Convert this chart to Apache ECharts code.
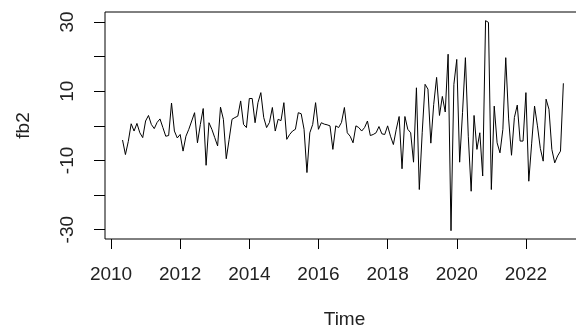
<!DOCTYPE html>
<html>
<head>
<meta charset="utf-8">
<script src="https://cdn.jsdelivr.net/npm/echarts@6/dist/echarts.min.js"></script>
<style>
html,body{margin:0;padding:0;background:#fff;}
#chart{width:576px;height:329px;}
</style>
</head>
<body>
<div id="chart"></div>
<script>
// Monthly series fb2, starting May 2010
var startYear = 2010;
var startMonth = 5;
var fb2 = [
  -4.1, -8.3, -4.5, 0.6, -1.5, 0.7, -2, -3.4, 1.4, 3.0,
  0.4, -0.8, 1, 2, -0.5, -3, -2.8, 6.6, -1.5, -3.5,
  -2.5, -7.3, -3, -1, 1.4, 3.8, -4.9, 0.4, 5, -11.4,
  0.9, -1, -3.4, -5.8, 5.4, 1.9, -9.5, -3.9, 1.9, 2.4,
  2.8, 7.2, 0.4, -0.5, 7.9, 7.9, 0.9, 6.7, 9.6, 2.4,
  -0.5, 1, 5.3, -1.5, 1.9, 1.5, 6.7, -3.9, -2.5, -1.5,
  -1, 3.8, 3.5, -1, -13.5, -2, 0.4, 6.7, -1, 0.9,
  0.5, 0.3, 0, -6.8, 0, -0.5, 1, 5.3, -2, -3,
  -4.9, 0, -0.5, -1.5, -0.5, 1.4, -2.8, -2.5, -2, -0.2,
  -2.3, -2.5, 0, -3, -5.4, -1, 2.7, -12.4, 2.7, -1,
  -2, -10.5, 11, -18.4, -2, 12, 10.6, -5, 6.2, 14,
  3, 8.5, 4, 20.7, -30.3, 12, 19.2, -10.5, 3.8, 19.7,
  -3, -18.9, 3, -6.8, -2, -14.5, 30.4, 29.9, -18.4, 5.7,
  -4.9, -7.8, -1, 19.7, 2, -8.5, 2.4, 6, -4.4, -4.4,
  9.6, -16, -5, 5.7, 0, -6.5, -10.2, 7.7, 4.8, -6.8,
  -10.7, -8.7, -7.3, 12.3
];
var xTicks = [2010, 2012, 2014, 2016, 2018, 2020, 2022];
var yTicks = [-30, -20, -10, 0, 10, 20, 30];
var yLabels = [-30, -10, 10, 30];

var data = fb2.map(function (v, i) {
  return [startYear + (startMonth - 1 + i) / 12, v];
});

var font = '"Liberation Sans", Arial, sans-serif';
var txtColor = '#222';

var chart = echarts.init(document.getElementById('chart'), null, {renderer: 'canvas'});
chart.setOption({
  animation: false,
  backgroundColor: '#fff',
  grid: {
    left: 105, top: 12, width: 479, height: 227,
    outerBoundsMode: 'none', containLabel: false,
    show: true, borderColor: '#000', borderWidth: 1, backgroundColor: 'transparent'
  },
  xAxis: {
    type: 'value',
    min: 2009.826, max: 2023.68,
    name: 'Time', nameLocation: 'middle', nameGap: 71,
    nameTextStyle: {fontFamily: font, fontSize: 19, color: txtColor},
    axisLine: {show: false, onZero: false},
    splitLine: {show: false},
    axisTick: {show: true, customValues: xTicks, length: 10, lineStyle: {color: '#000', width: 1}},
    axisLabel: {customValues: xTicks, fontFamily: font, fontSize: 19, color: txtColor, margin: 26,
      formatter: function (v) { return String(Math.round(v)); }}
  },
  yAxis: {
    type: 'value',
    min: -32.7, max: 32.9,
    name: 'fb2', nameLocation: 'middle', nameGap: 72, nameRotate: 90,
    nameTextStyle: {fontFamily: font, fontSize: 19, color: txtColor},
    axisLine: {show: false, onZero: false},
    splitLine: {show: false},
    axisTick: {show: true, customValues: yTicks, length: 11, lineStyle: {color: '#000', width: 1}},
    axisLabel: {customValues: yLabels, rotate: 90, fontFamily: font, fontSize: 19, color: txtColor, margin: 28,
      formatter: function (v) { return String(Math.round(v)); }}
  },
  series: [{
    type: 'line',
    data: data,
    showSymbol: false,
    lineStyle: {color: '#000', width: 1},
    itemStyle: {color: '#000'}
  }]
});
</script>
</body>
</html>
